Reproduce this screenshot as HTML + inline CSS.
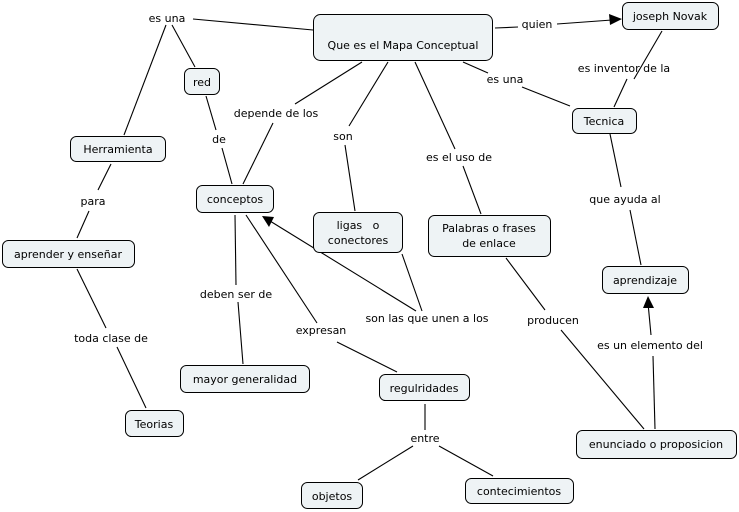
<!DOCTYPE html>
<html><head><meta charset="utf-8"><style>
html,body{margin:0;padding:0;background:#fff;width:739px;height:512px;overflow:hidden}
svg text{font-family:"DejaVu Sans","Liberation Sans",sans-serif;font-size:11px;fill:#000}
</style></head><body>
<svg width="739" height="512" viewBox="0 0 739 512" xmlns="http://www.w3.org/2000/svg">
<g stroke="#000" stroke-width="1.1" fill="none">
<!-- es una (left) -->
<line x1="193" y1="19" x2="313" y2="30"/>
<line x1="166" y1="25" x2="124" y2="135"/>
<line x1="172" y1="25" x2="195" y2="67"/>
<!-- red - de - conceptos -->
<line x1="206" y1="96" x2="216" y2="130"/>
<line x1="222" y1="148" x2="232" y2="184"/>
<!-- depende de los -->
<line x1="362" y1="62" x2="295" y2="104"/>
<line x1="273" y1="123" x2="243" y2="184"/>
<!-- son -->
<line x1="388" y1="62" x2="349" y2="126"/>
<line x1="345" y1="145" x2="355" y2="211"/>
<!-- es el uso de -->
<line x1="415" y1="62" x2="455" y2="149"/>
<line x1="463" y1="166" x2="481" y2="214"/>
<!-- quien -->
<line x1="495" y1="28" x2="518" y2="27"/>
<line x1="557" y1="24" x2="612" y2="20"/>
<!-- es una right -->
<line x1="463" y1="62" x2="488" y2="73"/>
<line x1="522" y1="87" x2="570" y2="106"/>
<!-- es inventor -->
<line x1="662" y1="31" x2="634" y2="79"/>
<line x1="627" y1="79" x2="614" y2="107"/>
<!-- que ayuda al -->
<line x1="610" y1="134" x2="621" y2="187"/>
<line x1="630" y1="210" x2="641" y2="265"/>
<!-- Herramienta para aprender -->
<line x1="111" y1="164" x2="98" y2="190"/>
<line x1="89" y1="211" x2="77" y2="238"/>
<!-- toda clase de -->
<line x1="77" y1="269" x2="106" y2="328"/>
<line x1="117" y1="347" x2="146" y2="408"/>
<!-- deben ser de -->
<line x1="235" y1="215" x2="236" y2="285"/>
<line x1="238" y1="302" x2="243" y2="364"/>
<!-- expresan -->
<line x1="246" y1="215" x2="317" y2="323"/>
<line x1="337" y1="342" x2="397" y2="372"/>
<!-- son las que unen a los -->
<line x1="402" y1="254" x2="422" y2="311"/>
<line x1="416" y1="311" x2="270" y2="221"/>
<!-- entre -->
<line x1="425" y1="404" x2="425" y2="430"/>
<line x1="413" y1="446" x2="358" y2="480"/>
<line x1="439" y1="446" x2="493" y2="476"/>
<!-- producen -->
<line x1="506" y1="258" x2="545" y2="310"/>
<line x1="561" y1="330" x2="644" y2="429"/>
<!-- es un elemento del -->
<line x1="655" y1="429" x2="653" y2="356"/>
<line x1="651" y1="335" x2="648" y2="303"/>
</g>
<g fill="#000">
<polygon points="622,19 609,14 610,25"/>
<polygon points="648,296 643,308 654,308"/>
<polygon points="262,216 274,217 269,227"/>
</g>
<g fill="#eef3f5" stroke="#000" stroke-width="1">
<rect x="313.5" y="14.5" width="179" height="46" rx="7"/>
<rect x="622.5" y="2.5" width="96" height="27" rx="6"/>
<rect x="572.5" y="108.5" width="64" height="25" rx="6"/>
<rect x="602.5" y="266.5" width="86" height="27" rx="6"/>
<rect x="576.5" y="430.5" width="160" height="28" rx="6"/>
<rect x="428.5" y="215.5" width="122" height="41" rx="6"/>
<rect x="313.5" y="212.5" width="89" height="40" rx="6"/>
<rect x="196.5" y="185.5" width="77" height="27" rx="6"/>
<rect x="184.5" y="68.5" width="35" height="26" rx="6"/>
<rect x="70.5" y="136.5" width="95" height="25" rx="6"/>
<rect x="2.5" y="240.5" width="132" height="27" rx="6"/>
<rect x="125.5" y="410.5" width="58" height="26" rx="6"/>
<rect x="180.5" y="365.5" width="129" height="27" rx="6"/>
<rect x="379.5" y="374.5" width="90" height="26" rx="6"/>
<rect x="301.5" y="482.5" width="61" height="26" rx="6"/>
<rect x="465.5" y="478.5" width="108" height="25" rx="6"/>
</g>
<g text-anchor="middle">
<text x="403" y="49">Que es el Mapa Conceptual</text>
<text x="670" y="20">joseph Novak</text>
<text x="604" y="125">Tecnica</text>
<text x="645" y="284">aprendizaje</text>
<text x="656" y="448">enunciado o proposicion</text>
<text x="489" y="232">Palabras o frases</text>
<text x="489" y="247">de enlace</text>
<text x="358" y="229">ligas  &#160; o</text>
<text x="358" y="244">conectores</text>
<text x="235" y="203">conceptos</text>
<text x="202" y="86">red</text>
<text x="118" y="153">Herramienta</text>
<text x="68" y="258">aprender y enseñar</text>
<text x="154" y="428">Teorias</text>
<text x="245" y="383">mayor generalidad</text>
<text x="424" y="392">regulridades</text>
<text x="332" y="500">objetos</text>
<text x="519" y="495">contecimientos</text>
<!-- link labels -->
<text x="167" y="22">es una</text>
<text x="537" y="28">quien</text>
<text x="505" y="83">es una</text>
<text x="624" y="72">es inventor de la</text>
<text x="276" y="117">depende de los</text>
<text x="343" y="140">son</text>
<text x="219" y="143">de</text>
<text x="459" y="161">es el uso de</text>
<text x="625" y="203">que ayuda al</text>
<text x="93" y="205">para</text>
<text x="236" y="298">deben ser de</text>
<text x="321" y="334">expresan</text>
<text x="427" y="322">son las que unen a los</text>
<text x="553" y="324">producen</text>
<text x="650" y="349">es un elemento del</text>
<text x="111" y="342">toda clase de</text>
<text x="425" y="442">entre</text>
</g>
</svg>
</body></html>
